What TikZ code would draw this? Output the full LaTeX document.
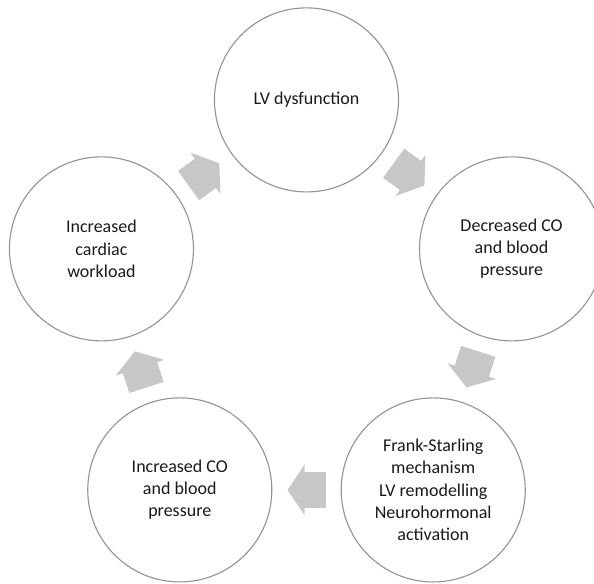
\documentclass[tikz,border=0pt]{standalone}
\usepackage{fontspec}
\setmainfont{Carlito}
\usetikzlibrary{calc, arrows.meta}
\colorlet{ringgray}{black!42}
\colorlet{arrowgray}{black!22}

\tikzset{
  stage/.style={circle, draw=ringgray, line width=0.8pt, minimum size=4.6cm,
    inner sep=0pt, align=center, text=black!90,
    font=\fontsize{12.8}{15.8}\selectfont},
  cyclearrow/.style={arrowgray, line width=0.9cm,
    -{Triangle[length=0.43cm, width=1.25cm]}}
}

\begin{document}
\begin{tikzpicture}[x=0.025cm, y=0.025cm]
        \useasboundingbox (-306.5, -268.5) rectangle (287.5, 315.5);

        \node[stage] (lv) at (90:215.6) {LV dysfunction};
        \node[stage] (decr) at (18:215.6) {Decreased CO\\and blood\\pressure};
        \node[stage] (frank) at (-54:215.6) {Frank-Starling\\mechanism\\LV remodelling\\Neurohormonal\\activation};
        \node[stage] (incr) at (-126:215.6) {Increased CO\\and blood\\pressure};
        \node[stage] (work) at (162:215.6) {Increased\\cardiac\\workload};

        %%%

        \draw[cyclearrow] ($(lv)!0.425!(decr)$) -- ($(lv)!0.575!(decr)$);
        \draw[cyclearrow] ($(decr)!0.425!(frank)$) -- ($(decr)!0.575!(frank)$);
        \draw[cyclearrow] ($(frank)!0.425!(incr)$) -- ($(frank)!0.575!(incr)$);
        \draw[cyclearrow] ($(incr)!0.425!(work)$) -- ($(incr)!0.575!(work)$);
        \draw[cyclearrow] ($(work)!0.425!(lv)$) -- ($(work)!0.575!(lv)$);
    \end{tikzpicture}
\end{document}
